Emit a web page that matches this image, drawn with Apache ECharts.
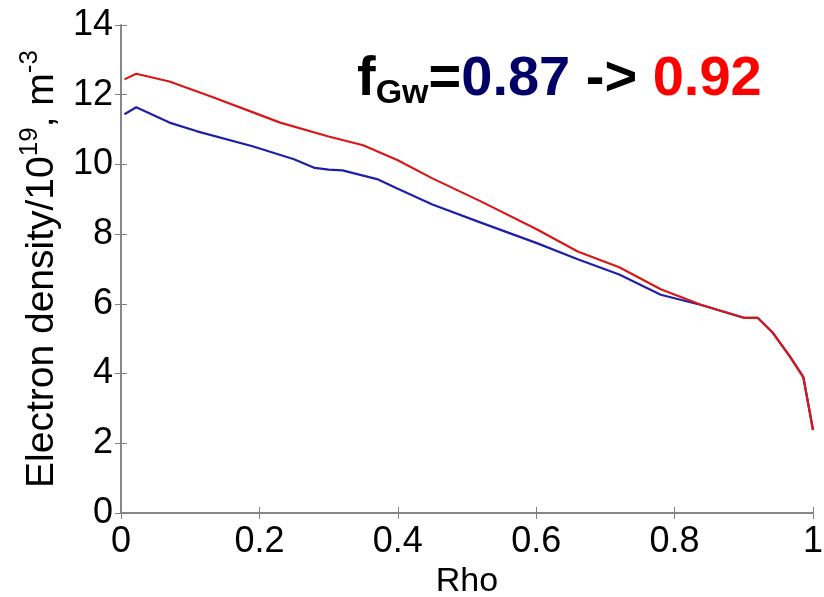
<!DOCTYPE html>
<html>
<head>
<meta charset="utf-8">
<script src="https://cdn.jsdelivr.net/npm/echarts@6/dist/echarts.min.js"></script>
<style>
  html, body { margin: 0; padding: 0; background: #fff; }
  #main { width: 824px; height: 597px; }
</style>
</head>
<body>
<div id="main"></div>
<script>
// density profiles
const blueRho = [0.005, 0.022, 0.07, 0.11, 0.19, 0.25, 0.28, 0.30, 0.32, 0.37, 0.40, 0.45, 0.52, 0.60, 0.66, 0.72, 0.78, 0.84, 0.87, 0.90, 0.92, 0.942, 0.967, 0.986, 1.0];
const blueNe = [11.44, 11.64, 11.2, 10.95, 10.52, 10.15, 9.9, 9.85, 9.83, 9.58, 9.3, 8.85, 8.33, 7.75, 7.28, 6.84, 6.26, 5.96, 5.78, 5.6, 5.6, 5.17, 4.48, 3.9, 2.38];
const redRho = [0.005, 0.022, 0.07, 0.13, 0.19, 0.23, 0.30, 0.35, 0.40, 0.45, 0.52, 0.60, 0.66, 0.72, 0.78, 0.84, 0.87, 0.90, 0.92, 0.942, 0.967, 0.986, 1.0];
const redNe = [12.44, 12.6, 12.38, 11.95, 11.5, 11.2, 10.8, 10.55, 10.12, 9.6, 8.94, 8.15, 7.5, 7.05, 6.42, 5.96, 5.78, 5.6, 5.6, 5.17, 4.48, 3.9, 2.38];

const pairs = (xs, ys) => xs.map((x, i) => [x, ys[i]]);

const chart = echarts.init(document.getElementById('main'));

const font = 'Liberation Sans, Arial, sans-serif';
const boxColor = '#808080';

chart.setOption({
    animation: false,
    grid: { left: 121, right: 11, top: 25, bottom: 84, outerBoundsMode: 'none', containLabel: false },
    xAxis: [
        {
            type: 'value',
            min: 0,
            max: 1,
            interval: 0.2,
            name: 'Rho',
            nameLocation: 'middle',
            nameGap: 50,
            nameTextStyle: { color: '#000', fontSize: 34, fontFamily: font },
            axisLine: { show: true, lineStyle: { color: boxColor, width: 1.5 } },
            axisTick: { show: true, inside: true, length: 6, lineStyle: { color: boxColor } },
            axisLabel: { color: '#000', fontSize: 36, fontFamily: font, margin: 11 },
            splitLine: { show: false },
        },
        {
            type: 'value',
            position: 'top',
            min: 0,
            max: 1,
            interval: 0.2,
            axisLine: { show: true, lineStyle: { color: boxColor, width: 1.5 } },
            axisTick: { show: true, inside: true, length: 6, lineStyle: { color: boxColor } },
            axisLabel: { show: false },
            splitLine: { show: false },
        },
    ],
    yAxis: [
        {
            type: 'value',
            min: 0,
            max: 14,
            interval: 2,
            name: '{a|Electron density/10}{s|19}{a|, m}{s|-3}',
            nameLocation: 'middle',
            nameGap: 46,
            nameRotate: 90,
            nameTextStyle: {
                color: '#000',
                fontFamily: font,
                rich: {
                    a: { fontSize: 39, fontFamily: font, color: '#000' },
                    s: { fontSize: 26, fontFamily: font, color: '#000', padding: [0, 0, 26, 0] },
                },
            },
            axisLine: { show: true, lineStyle: { color: boxColor, width: 1.5 } },
            axisTick: { show: true, inside: true, length: 6, lineStyle: { color: boxColor } },
            axisLabel: { color: '#000', fontSize: 36, fontFamily: font, margin: 8 },
            splitLine: { show: false },
        },
        {
            type: 'value',
            position: 'right',
            min: 0,
            max: 14,
            interval: 2,
            axisLine: { show: true, lineStyle: { color: boxColor, width: 1.5 } },
            axisTick: { show: true, inside: true, length: 6, lineStyle: { color: boxColor } },
            axisLabel: { show: false },
            splitLine: { show: false },
        },
    ],
    graphic: [
        {
            type: 'text',
            left: 357,
            top: 52,
            style: {
                text: '{f|f}{g|Gw}{f|=}{b|0.87}{f| -> }{r|0.92}',
                rich: {
                    f: { fontSize: 56, fontWeight: 'bold', fontFamily: font, fill: '#000' },
                    g: { fontSize: 34, fontWeight: 'bold', fontFamily: font, fill: '#000', padding: [28, 0, 0, 0] },
                    b: { fontSize: 56, fontWeight: 'bold', fontFamily: font, fill: '#000066' },
                    r: { fontSize: 56, fontWeight: 'bold', fontFamily: font, fill: '#ff0000' },
                },
            },
        },
    ],
    series: [
        {
            name: 'fGw 0.87',
            type: 'line',
            data: pairs(blueRho, blueNe),
            symbol: 'none',
            lineStyle: { color: '#1f1fa8', width: 2.2 },
        },
        {
            name: 'fGw 0.92',
            type: 'line',
            data: pairs(redRho, redNe),
            symbol: 'none',
            lineStyle: { color: '#d81818', width: 2.2 },
        },
    ],
});
</script>
</body>
</html>
